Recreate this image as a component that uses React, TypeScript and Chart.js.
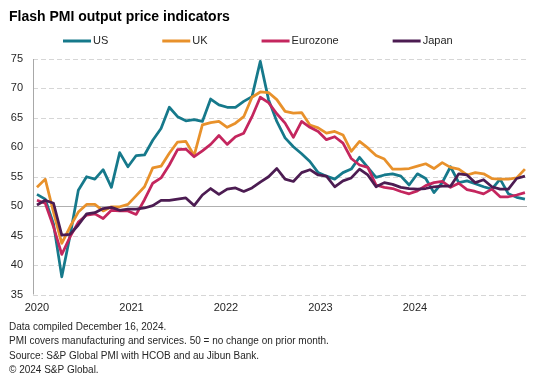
import React, { useEffect, useRef } from 'react';
import { Chart, registerables } from 'chart.js';

Chart.register(...registerables);

const FONT = '"Liberation Sans", Arial, Helvetica, sans-serif';

const titleText = 'Flash PMI output price indicators';
const footnotes = [
  'Data compiled December 16, 2024.',
  'PMI covers manufacturing and services. 50 = no change on prior month.',
  'Source: S&P Global PMI with HCOB and au Jibun Bank.',
  '\u00A9 2024 S&P Global.',
];

const yearLabels = ['2020', '2021', '2022', '2023', '2024'];
const yearTickPositions = [0, 11.43, 22.85, 34.28, 45.7];

const seriesNames = ['US', 'UK', 'Eurozone', 'Japan'];
const seriesColors = ['#16798b', '#e8912b', '#c4265e', '#4c1c52'];

// Monthly values, Jan 2020 .. Dec 2024
const us = [
  52.0, 51.2, 47.0, 38.0, 45.0, 52.7, 55.0, 54.6, 56.2, 53.2, 59.1, 56.7,
  58.6, 58.7, 61.2, 63.2, 66.8, 65.2, 64.5, 64.7, 64.4, 68.2, 67.2, 66.8,
  66.8, 67.8, 68.6, 74.6, 68.1, 64.4, 61.6, 60.1, 58.9, 57.6, 55.7, 55.1,
  54.6, 55.7, 56.3, 58.3, 56.6, 54.9, 55.3, 55.5, 55.1, 53.6, 55.5, 54.7,
  52.3, 54.0, 56.7, 54.0, 54.3, 53.8, 53.3, 52.9, 54.6, 52.1, 51.5, 51.2,
];
const uk = [
  53.2, 54.6, 49.0, 43.7, 46.5, 49.0, 50.3, 50.3, 49.2, 49.9, 49.9, 50.3,
  51.8, 53.3, 56.5, 56.8, 59.0, 60.9, 61.0, 58.6, 63.8, 64.2, 64.4, 63.4,
  64.1, 65.2, 68.5, 69.4, 69.3, 68.1, 66.1, 65.8, 65.9, 63.8, 63.3, 62.4,
  62.7, 62.1, 59.3, 61.0, 59.9, 58.6, 58.0, 56.3, 56.3, 56.4, 56.8, 57.2,
  56.4, 57.4, 56.6, 56.3, 55.3, 55.7, 55.5, 54.7, 54.6, 54.6, 54.8, 56.3,
];
const eurozone = [
  51.0, 50.5, 46.5, 41.8, 44.8, 47.3, 48.5, 48.7, 47.9, 49.3, 49.2, 49.2,
  48.6, 51.1, 53.9, 54.8, 57.0, 59.6, 59.7, 58.4, 59.4, 60.5, 62.0, 60.5,
  61.8, 62.4, 65.2, 68.5, 67.6, 65.7, 64.1, 61.7, 64.4, 63.4, 62.7, 61.3,
  61.8, 60.7, 58.1, 57.0, 56.6, 53.6, 53.2, 53.0, 52.5, 52.1, 52.6, 53.5,
  54.0, 54.2, 53.2, 53.9, 52.8, 52.5, 52.1, 52.9, 51.6, 51.6, 51.9, 52.3,
];
const japan = [
  50.2, 51.0, 50.5, 45.1, 45.2, 46.8, 48.7, 48.9, 49.6, 49.8, 49.3, 49.5,
  49.5, 49.7, 50.1, 51.0, 51.0, 51.2, 51.4, 50.1, 51.9, 53.0, 52.0, 52.9,
  53.1, 52.5, 53.1, 54.1, 55.0, 56.4, 54.6, 54.2, 55.7, 56.2, 55.3, 55.1,
  53.3, 54.3, 54.8, 56.3, 55.3, 53.3, 54.0, 53.7, 53.2, 53.0, 52.9, 53.0,
  53.3, 53.4, 53.4, 55.5, 55.3, 54.0, 54.5, 53.3, 52.9, 52.9, 54.7, 55.1,
];
const seriesValues = [us, uk, eurozone, japan];

const decorPlugin = {
  id: 'decor',
  beforeDatasetsDraw(chart: any) {
    const { ctx, chartArea: a, scales } = chart;
    const y = scales.y;
    ctx.save();
    ctx.lineWidth = 1;
    y.ticks.forEach((t: any) => {
      const py = Math.round(y.getPixelForValue(t.value)) + 0.5;
      ctx.beginPath();
      if (t.value === 50) {
        ctx.setLineDash([]);
        ctx.strokeStyle = '#b0b0b0';
      } else {
        ctx.setLineDash([5, 3]);
        ctx.strokeStyle = '#d6d6d6';
      }
      ctx.moveTo(a.left, py);
      ctx.lineTo(a.right, py);
      ctx.stroke();
    });
    ctx.setLineDash([]);
    ctx.strokeStyle = '#a8a8a8';
    ctx.beginPath();
    const ax = Math.round(a.left) + 0.5;
    ctx.moveTo(ax, a.top);
    ctx.lineTo(ax, a.bottom);
    ctx.stroke();
    ctx.restore();
  },
  afterDraw(chart: any) {
    const { ctx } = chart;
    ctx.save();
    // title
    ctx.fillStyle = '#000000';
    ctx.font = `bold 14px ${FONT}`;
    ctx.textAlign = 'left';
    ctx.textBaseline = 'alphabetic';
    ctx.fillText(titleText, 9, 21);
    // legend
    ctx.font = `11px ${FONT}`;
    ctx.textBaseline = 'middle';
    let lx = 63;
    const ly = 41;
    chart.data.datasets.forEach((ds: any) => {
      ctx.strokeStyle = ds.borderColor;
      ctx.lineWidth = 3;
      ctx.beginPath();
      ctx.moveTo(lx, ly);
      ctx.lineTo(lx + 28, ly);
      ctx.stroke();
      ctx.fillStyle = '#262626';
      ctx.fillText(ds.label, lx + 30, ly);
      lx += 30 + ctx.measureText(ds.label).width + 54;
    });
    // footnotes
    ctx.font = `10px ${FONT}`;
    ctx.fillStyle = '#262626';
    footnotes.forEach((line, i) => {
      ctx.fillText(line, 9, 327 + i * 14.5);
    });
    ctx.restore();
  },
};

export default function App() {
  const ref = useRef<HTMLCanvasElement | null>(null);
  useEffect(() => {
    if (!ref.current) return;
    const chart = new Chart(ref.current, {
      type: 'line',
      data: {
        datasets: seriesNames.map((name, k) => ({
          label: name,
          data: seriesValues[k].map((v, i) => ({ x: i, y: v })),
          borderColor: seriesColors[k],
          backgroundColor: seriesColors[k],
          borderWidth: 2.75,
          pointRadius: 0,
          tension: 0,
          borderJoinStyle: 'round' as const,
          order: seriesNames.length - k,
        })),
      },
      options: {
        animation: false,
        responsive: false,
        devicePixelRatio: 1,
        layout: { padding: { left: 9, right: 18, top: 59, bottom: 73.5 } },
        plugins: {
          legend: { display: false },
          title: { display: false },
          tooltip: { enabled: false },
        },
        scales: {
          x: {
            type: 'linear',
            min: -0.48,
            max: 59.25,
            grid: { display: false, drawTicks: false },
            border: { display: false },
            afterBuildTicks: (scale: any) => {
              scale.ticks = yearTickPositions.map((v) => ({ value: v }));
            },
            afterFit: (scale: any) => {
              scale.height = 20;
            },
            ticks: {
              autoSkip: false,
              maxRotation: 0,
              padding: 7,
              color: '#262626',
              font: { family: FONT, size: 11 },
              callback: (_v: any, i: number) => yearLabels[i],
            },
          },
          y: {
            min: 35,
            max: 75,
            grid: { display: false, drawTicks: false },
            border: { display: false },
            afterFit: (scale: any) => {
              scale.width = 24;
            },
            ticks: {
              stepSize: 5,
              padding: 10,
              color: '#262626',
              font: { family: FONT, size: 11 },
            },
          },
        },
      },
      plugins: [decorPlugin],
    });
    return () => chart.destroy();
  }, []);
  return (
    <div style={{ position: 'absolute', left: 0, top: 0, width: 545, height: 388, background: '#fff' }}>
      <canvas ref={ref} width={545} height={388} style={{ display: 'block' }} />
    </div>
  );
}
